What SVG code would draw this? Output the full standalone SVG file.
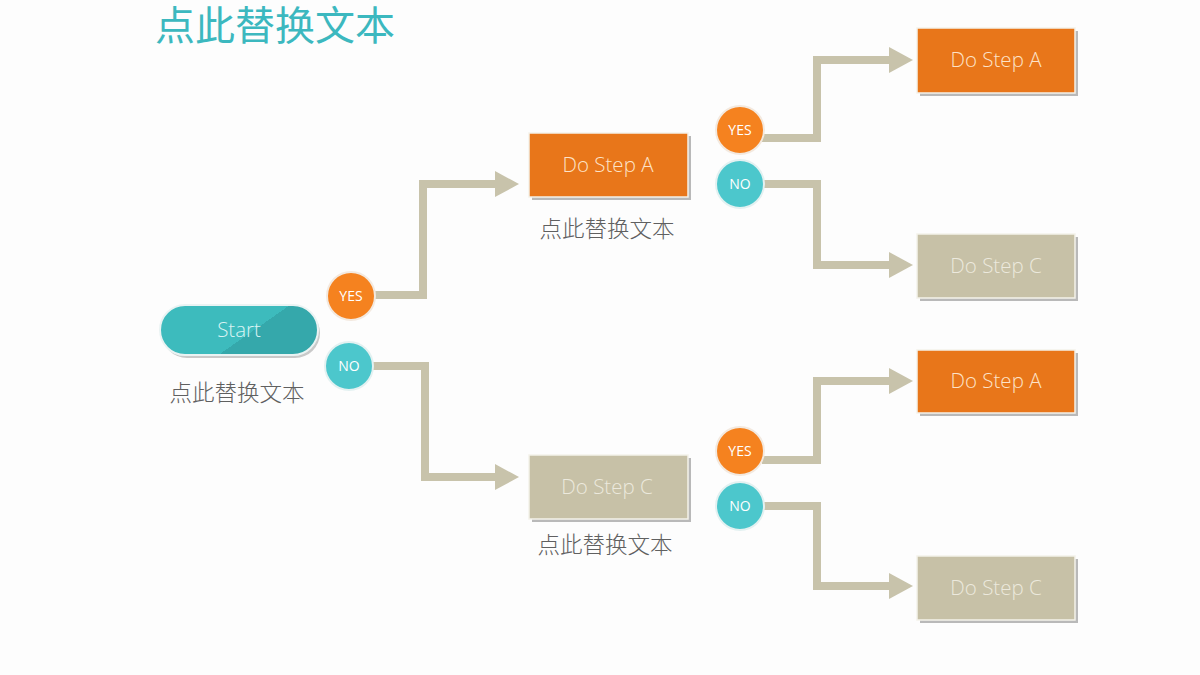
<svg xmlns="http://www.w3.org/2000/svg" width="1200" height="675" viewBox="0 0 1200 675">
<defs>
<style>
.conn{fill:none;stroke:#c8c3ab;stroke-width:8;stroke-linejoin:miter}
.box{stroke:#f4f2ea;stroke-width:1.5}
.orange{fill:#e8761a}
.beige{fill:#c7c1a7}
.shadow{fill:#b9b9b9}
.bt{font-family:"Open Sans","Liberation Sans",sans-serif;font-size:20.5px;text-anchor:middle;font-weight:300}
.bto{fill:#fde3c8}
.btb{fill:#ece9dd}
.ct{font-family:"Open Sans","Liberation Sans",sans-serif;font-size:14px;text-anchor:middle;fill:#ffffff}
.cy{fill:#f5821f;stroke:#f3e9df;stroke-width:2}
.cn{fill:#4cc7cc;stroke:#e3f1f1;stroke-width:2}
.lbl{font-family:"Noto Sans CJK SC",sans-serif;font-size:22.5px;fill:#606060;text-anchor:middle;font-weight:300}
</style>
<marker id="arr" markerUnits="userSpaceOnUse" markerWidth="24" markerHeight="26" refX="0" refY="13" orient="auto">
<path d="M0,0 L24,13 L0,26 Z" fill="#c8c3ab"/>
</marker>
<linearGradient id="pill" gradientUnits="userSpaceOnUse" x1="202.5" y1="257.5" x2="304.5" y2="403.5">
<stop offset="0.5" stop-color="#3dbbbd"/>
<stop offset="0.5" stop-color="#35a8ab"/>
</linearGradient>
</defs>
<rect width="1200" height="675" fill="#fdfdfd"/>
<text x="155" y="40" font-family="Noto Sans CJK SC,sans-serif" font-size="40" fill="#3cb8bf">点此替换文本</text>

<g id="connectors">
<path class="conn" d="M372,295 H423 V184 H495" marker-end="url(#arr)"/>
<path class="conn" d="M370,366 H425 V477 H495" marker-end="url(#arr)"/>
<path class="conn" d="M762,138 H817 V60 H889" marker-end="url(#arr)"/>
<path class="conn" d="M762,184 H817 V265 H889" marker-end="url(#arr)"/>
<path class="conn" d="M762,460 H817 V381 H889" marker-end="url(#arr)"/>
<path class="conn" d="M762,506 H817 V586 H889" marker-end="url(#arr)"/>
</g>

<g id="start">
<rect x="162" y="308" width="158" height="50" rx="25" fill="#c9c9c9"/>
<rect x="160" y="305" width="158" height="50" rx="25" fill="url(#pill)" stroke="#eaf3f3" stroke-width="2"/>
<text class="bt" x="239" y="337" fill="#d9f3f3">Start</text>
<text class="lbl" x="237" y="401">点此替换文本</text>
</g>

<g id="yes1"><circle class="cy" cx="351" cy="296" r="24"/><text class="ct" x="351" y="301">YES</text></g>
<g id="no1"><circle class="cn" cx="349" cy="366" r="24"/><text class="ct" x="349" y="371">NO</text></g>

<g id="stepA1">
<rect class="shadow" x="532" y="136" width="159" height="64"/>
<rect class="box orange" x="529" y="133" width="159" height="64"/>
<text class="bt bto" x="608" y="172">Do Step A</text>
<text class="lbl" x="607" y="237">点此替换文本</text>
</g>

<g id="stepC1">
<rect class="shadow" x="532" y="458" width="159" height="64"/>
<rect class="box beige" x="529" y="455" width="159" height="64"/>
<text class="bt btb" x="607" y="494">Do Step C</text>
<text class="lbl" x="605" y="553">点此替换文本</text>
</g>

<g id="yes2"><circle class="cy" cx="740" cy="130" r="24"/><text class="ct" x="740" y="135">YES</text></g>
<g id="no2"><circle class="cn" cx="740" cy="184" r="24"/><text class="ct" x="740" y="189">NO</text></g>
<g id="yes3"><circle class="cy" cx="740" cy="451" r="24"/><text class="ct" x="740" y="456">YES</text></g>
<g id="no3"><circle class="cn" cx="740" cy="506" r="24"/><text class="ct" x="740" y="511">NO</text></g>

<g id="stepA2">
<rect class="shadow" x="920" y="31" width="158" height="65"/>
<rect class="box orange" x="917" y="28" width="158" height="65"/>
<text class="bt bto" x="996" y="67">Do Step A</text>
</g>
<g id="stepC2">
<rect class="shadow" x="920" y="237" width="158" height="64"/>
<rect class="box beige" x="917" y="234" width="158" height="64"/>
<text class="bt btb" x="996" y="273">Do Step C</text>
</g>
<g id="stepA3">
<rect class="shadow" x="920" y="353" width="158" height="63"/>
<rect class="box orange" x="917" y="350" width="158" height="63"/>
<text class="bt bto" x="996" y="388">Do Step A</text>
</g>
<g id="stepC3">
<rect class="shadow" x="920" y="559" width="158" height="64"/>
<rect class="box beige" x="917" y="556" width="158" height="64"/>
<text class="bt btb" x="996" y="595">Do Step C</text>
</g>
</svg>
